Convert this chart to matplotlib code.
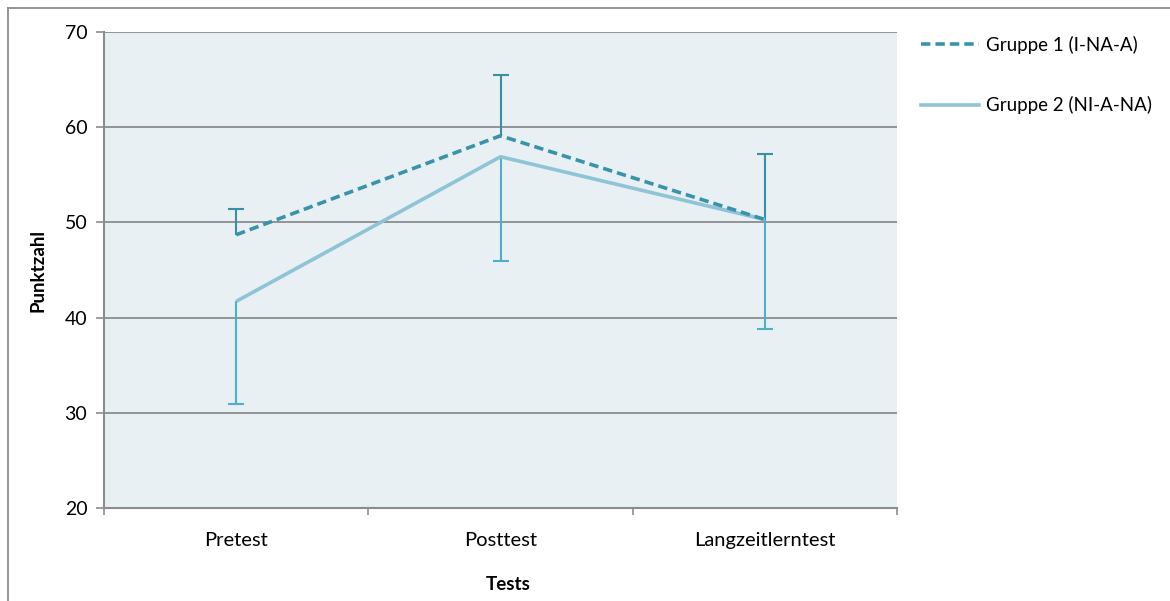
import matplotlib
matplotlib.use("Agg")
import matplotlib.pyplot as plt
from matplotlib.lines import Line2D
import numpy as np

plt.rcParams['font.family'] = ['Lato', 'DejaVu Sans']

categories = ["Pretest", "Posttest", "Langzeitlerntest"]
gruppe1 = [48.7, 59.1, 50.3]
gruppe1_err_plus = [2.7, 6.4, 6.9]
gruppe2 = [41.7, 56.9, 50.3]
gruppe2_err_minus = [10.8, 11.0, 11.5]
yticks = [20, 30, 40, 50, 60, 70]

fig = plt.figure(figsize=(11.70, 6.01), dpi=100)
ax = fig.add_axes([104/1170, 1 - 508/601, (897-104)/1170, (508-32)/601])
ax.set_facecolor("#E8F0F4")

x = np.arange(len(categories))
grid_col = "#8C8C8C"
c1, c1_err = "#3A93AB", "#3A8EA6"
c2, c2_err = "#8EC4D5", "#4FAEC8"

for y in yticks:
    ax.axhline(y, color=grid_col, lw=1.3, zorder=1)

# one-sided error bars: upward for group 1, downward for group 2
g1 = np.array(gruppe1)
g2 = np.array(gruppe2)
g1_top = g1 + np.array(gruppe1_err_plus)
g2_bot = g2 - np.array(gruppe2_err_minus)
ax.vlines(x, g1, g1_top, color=c1_err, lw=1.5, zorder=3)
ax.plot(x, g1_top, ls="none", marker="_", ms=11, mew=1.5, color=c1_err, zorder=3)
ax.vlines(x, g2_bot, g2, color=c2_err, lw=1.5, zorder=3)
ax.plot(x, g2_bot, ls="none", marker="_", ms=11, mew=1.5, color=c2_err, zorder=3)

ax.plot(x, gruppe2, color=c2, lw=2.6, zorder=4, solid_capstyle="butt")
ax.plot(x, gruppe1, color=c1, lw=2.6, ls=(0, (2.6, 1.4)), zorder=5)

ax.set_xlim(-0.5, 2.5)
ax.set_ylim(20, 70)
ax.set_yticks(yticks)
ax.set_xticks(x)
ax.set_xticklabels(categories)
ax.set_xticks([-0.5, 0.5, 1.5, 2.5], minor=True)
ax.tick_params(axis="x", which="major", length=0, pad=17, labelsize=14.5)
ax.tick_params(axis="x", which="minor", length=5, direction="out", color=grid_col, width=1.2)
ax.tick_params(axis="y", length=6, direction="out", color=grid_col, width=1.2, labelsize=14, pad=6)

for s in ["top", "right"]:
    ax.spines[s].set_visible(False)
for s in ["left", "bottom"]:
    ax.spines[s].set_color(grid_col)
    ax.spines[s].set_linewidth(1.5)

fig.text(38/1170, 1 - 270/601, "Punktzahl", rotation=90, fontsize=13.5,
         fontweight="bold", ha="center", va="center")
fig.text(508/1170, 1 - 585/601, "Tests", fontsize=13.5, fontweight="bold",
         ha="center", va="center")

# legend
handles = [Line2D([], [], color=c1, lw=2.6, ls=(0, (2.6, 1.4))),
           Line2D([], [], color=c2, lw=2.6)]
labels = ["Gruppe 1 (I-NA-A)", "Gruppe 2 (NI-A-NA)"]
fig.legend(handles, labels, loc="upper left", bbox_to_anchor=(904/1170, 1 - 19/601),
           frameon=False, fontsize=13.5, handlelength=3.1, handletextpad=0.4,
           labelspacing=2.25)

# outer frame
fig.add_artist(Line2D([8/1170, 8/1170], [0, 1 - 8/601], transform=fig.transFigure,
                      color="#8C8C8C", lw=1.3))
fig.add_artist(Line2D([8/1170, 1], [1 - 8/601, 1 - 8/601], transform=fig.transFigure,
                      color="#8C8C8C", lw=1.3))

fig.savefig("out.png", dpi=100)
